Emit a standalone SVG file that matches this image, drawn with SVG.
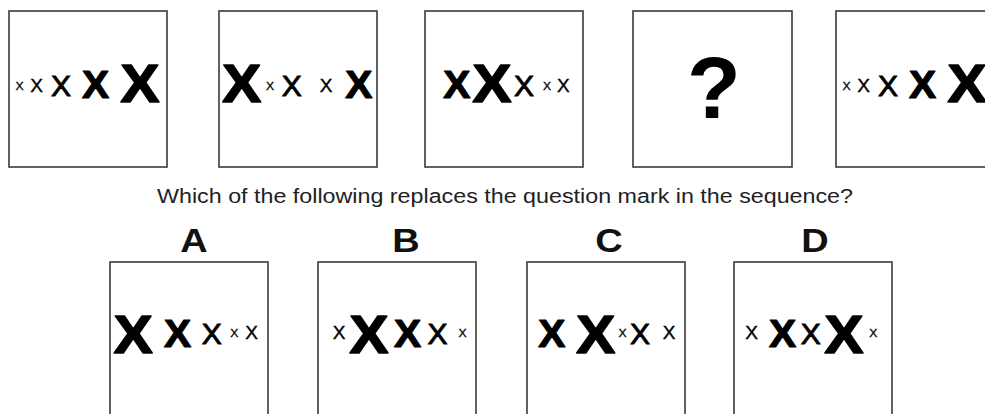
<svg xmlns="http://www.w3.org/2000/svg" width="985" height="414" viewBox="0 0 985 414">
<style>
.box{fill:#fff;stroke:#3a3a3a;stroke-width:1.6}
text{font-family:"Liberation Sans",Arial,Helvetica,sans-serif;fill:#000;text-anchor:middle}
.s1{font-size:11px;stroke:#000;stroke-width:0.3}
.s2{font-size:19px;stroke:#000;stroke-width:0.4}
.s3{font-size:30px;stroke:#000;stroke-width:0.9}
.s4{font-size:38px;font-weight:bold;stroke:#000;stroke-width:1.2;stroke-linejoin:round}
.s5{font-size:53px;font-weight:bold;stroke:#000;stroke-width:1.6;stroke-linejoin:round}
.q{font-size:88px;font-weight:bold}
.lbl{font-size:33px;font-weight:bold;fill:#111}
.prompt{font-size:19.5px;fill:#222;text-anchor:start}
</style>
<rect width="985" height="414" fill="#fff"/>
<g id="seq-1">
<rect class="box" x="9" y="11" width="158" height="156"/>
<text class="s1" transform="translate(19.5,89.5) scale(1.1,1)">X</text>
<text class="s2" transform="translate(36.5,91.5)">X</text>
<text class="s3" transform="translate(61,95.5)">X</text>
<text class="s4" transform="translate(95.5,97.5) scale(1.07,1)">X</text>
<text class="s5" transform="translate(140,101.5) scale(1.1,1)">X</text>
</g>
<g id="seq-2">
<rect class="box" x="219" y="11" width="158" height="156"/>
<text class="s5" transform="translate(241.7,101.5) scale(1.1,1)">X</text>
<text class="s1" transform="translate(270,89.5) scale(1.1,1)">X</text>
<text class="s3" transform="translate(291.7,95.5)">X</text>
<text class="s2" transform="translate(326,91.5)">X</text>
<text class="s4" transform="translate(358.7,97.5) scale(1.07,1)">X</text>
</g>
<g id="seq-3">
<rect class="box" x="425" y="11" width="158" height="156"/>
<text class="s4" transform="translate(456.7,97.5) scale(1.07,1)">X</text>
<text class="s5" transform="translate(492,101.5) scale(1.1,1)">X</text>
<text class="s3" transform="translate(524,95.5)">X</text>
<text class="s1" transform="translate(547,89.5) scale(1.1,1)">X</text>
<text class="s2" transform="translate(563.3,91.5)">X</text>
</g>
<g id="seq-4">
<rect class="box" x="633" y="11" width="159" height="156"/>
<text class="q" x="714" y="118">?</text>
</g>
<g id="seq-5">
<rect class="box" x="836" y="11" width="158" height="156"/>
<text class="s1" transform="translate(846.5,89.5) scale(1.1,1)">X</text>
<text class="s2" transform="translate(863.5,91.5)">X</text>
<text class="s3" transform="translate(888,95.5)">X</text>
<text class="s4" transform="translate(922.5,97.5) scale(1.07,1)">X</text>
<text class="s5" transform="translate(967,101.5) scale(1.1,1)">X</text>
</g>
<g id="prompt">
<text class="prompt" x="157" y="202.5" textLength="696" lengthAdjust="spacingAndGlyphs">Which of the following replaces the question mark in the sequence?</text>
</g>
<g id="option-A">
<text class="lbl" transform="translate(194,251.5) scale(1.15,1)">A</text>
<rect class="box" x="110" y="262" width="158" height="156"/>
<text class="s5" transform="translate(133.3,353) scale(1.1,1)">X</text>
<text class="s4" transform="translate(177.5,347) scale(1.07,1)">X</text>
<text class="s3" transform="translate(211.7,344)">X</text>
<text class="s1" transform="translate(234.3,336.5) scale(1.1,1)">X</text>
<text class="s2" transform="translate(251.7,339)">X</text>
</g>
<g id="option-B">
<text class="lbl" transform="translate(406,251.5) scale(1.15,1)">B</text>
<rect class="box" x="318" y="262" width="158" height="156"/>
<text class="s2" transform="translate(339,339)">X</text>
<text class="s5" transform="translate(369,353) scale(1.1,1)">X</text>
<text class="s4" transform="translate(407.5,347) scale(1.07,1)">X</text>
<text class="s3" transform="translate(437.5,344)">X</text>
<text class="s1" transform="translate(462.5,336.5) scale(1.1,1)">X</text>
</g>
<g id="option-C">
<text class="lbl" transform="translate(609,251.5) scale(1.15,1)">C</text>
<rect class="box" x="527" y="262" width="158" height="156"/>
<text class="s4" transform="translate(551.7,347) scale(1.07,1)">X</text>
<text class="s5" transform="translate(595.8,353) scale(1.1,1)">X</text>
<text class="s1" transform="translate(622.5,336.5) scale(1.1,1)">X</text>
<text class="s3" transform="translate(640,344)">X</text>
<text class="s2" transform="translate(669,339)">X</text>
</g>
<g id="option-D">
<text class="lbl" transform="translate(815,251.5) scale(1.15,1)">D</text>
<rect class="box" x="734" y="262" width="158" height="156"/>
<text class="s2" transform="translate(751.7,339)">X</text>
<text class="s4" transform="translate(782.5,347) scale(1.07,1)">X</text>
<text class="s3" transform="translate(810.8,344)">X</text>
<text class="s5" transform="translate(844,353) scale(1.1,1)">X</text>
<text class="s1" transform="translate(873.3,336.5) scale(1.1,1)">X</text>
</g>
</svg>
